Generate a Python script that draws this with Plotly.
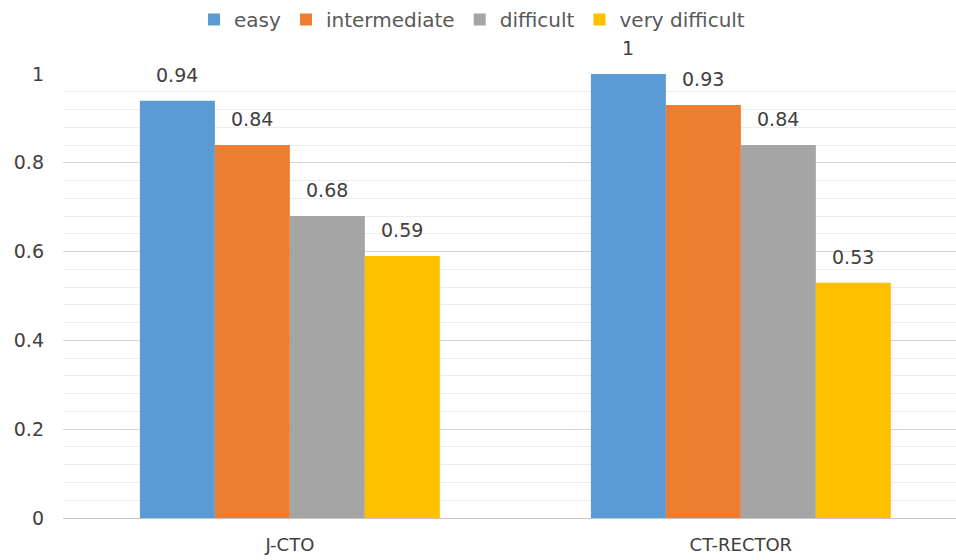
import plotly.graph_objects as go

# Success rate by lesion difficulty for two CTO scoring systems
categories = ["J-CTO", "CT-RECTOR"]
series_names = ["easy", "intermediate", "difficult", "very difficult"]
easy = [0.94, 1.00]
intermediate = [0.84, 0.93]
difficult = [0.68, 0.84]
very_difficult = [0.59, 0.53]
label_texts = [["0.94", "1"], ["0.84", "0.93"], ["0.68", "0.84"], ["0.59", "0.53"]]
y_ticks = [0, 0.2, 0.4, 0.6, 0.8, 1]

series_values = [easy, intermediate, difficult, very_difficult]
colors = ["#5B9BD5", "#ED7D31", "#A5A5A5", "#FFC000"]

FONT = "DejaVu Sans"
TEXT = "#404040"

fig = go.Figure()
for name, vals, col in zip(series_names, series_values, colors):
    fig.add_trace(go.Bar(
        x=categories, y=vals, name=name,
        marker=dict(color=col, line=dict(width=0)),
    ))

# value labels above each bar, positioned from the bar's own value
group_width = 1 - 0.335
bar_w = group_width / len(series_names)
for j, (vals, texts) in enumerate(zip(series_values, label_texts)):
    for i, (v, t) in enumerate(zip(vals, texts)):
        fig.add_annotation(
            x=i + (j - (len(series_names) - 1) / 2) * bar_w, y=v,
            xref="x", yref="y", text=t, showarrow=False,
            yanchor="middle", yshift=26,
            font=dict(family=FONT, size=19, color=TEXT),
        )

fig.update_layout(
    width=956, height=560,
    margin=dict(l=63, r=0, t=74, b=42),
    paper_bgcolor="white", plot_bgcolor="white",
    barmode="group", bargap=0.335, bargroupgap=0,
    font=dict(family=FONT, size=19, color="#595959"),
    legend=dict(
        orientation="h", x=(472 - 63) / 893, xanchor="center",
        yref="container", y=1.0, yanchor="top",
        font=dict(family=FONT, size=20, color="#595959"),
        itemwidth=30, traceorder="normal",
    ),
    showlegend=True,
)
fig.update_xaxes(
    type="category", range=[-0.503, 1.477],
    showgrid=False, showline=False, ticks="",
    ticklabelstandoff=14,
    tickfont=dict(family=FONT, size=18, color=TEXT),
)
fig.update_yaxes(
    range=[0, 1], tickvals=y_ticks, ticktext=[f"{t:g}" for t in y_ticks],
    showgrid=True, gridcolor="#d4d4d4", gridwidth=1,
    zeroline=True, zerolinecolor="#c8c8c8", zerolinewidth=1,
    minor=dict(dtick=0.04, showgrid=True, gridcolor="#ececec", gridwidth=1),
    ticks="", ticklabelstandoff=18,
    tickfont=dict(family=FONT, size=19, color=TEXT),
)

fig.write_html("out.html")
